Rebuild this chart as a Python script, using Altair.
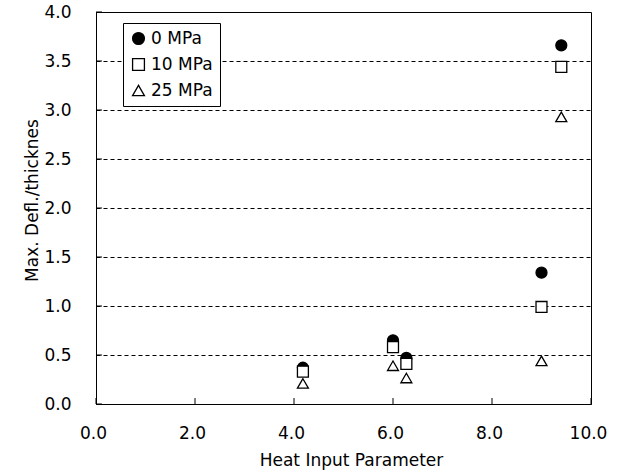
import altair as alt
import pandas as pd

series = ["0 MPa", "10 MPa", "25 MPa"]
heat = [4.18, 6.0, 6.27, 9.0, 9.4]
defl_0 = [0.37, 0.65, 0.47, 1.34, 3.66]
defl_10 = [0.33, 0.58, 0.41, 0.99, 3.44]
defl_25 = [0.21, 0.39, 0.265, 0.44, 2.93]
x_ticks = [0, 2, 4, 6, 8, 10]
y_ticks = [0, 0.5, 1, 1.5, 2, 2.5, 3, 3.5, 4]

rows = []
for name, vals in zip(series, [defl_0, defl_10, defl_25]):
    for x, y in zip(heat, vals):
        rows.append({"Pressure": name, "Heat": x, "Defl": y})
df = pd.DataFrame(rows)

FONT = "DejaVu Sans"
W, H = 495, 392

xscale = alt.Scale(domain=[0, 10], nice=False)
yscale = alt.Scale(domain=[0, 4], nice=False)

leg = dict(title=None, orient="none", legendX=27, legendY=11,
           fillColor="white", strokeColor="black", padding=7,
           labelFontSize=17, labelFont=FONT, labelColor="black", symbolSize=140,
           symbolStrokeWidth=1.3, rowPadding=7, labelOffset=4)

points = alt.Chart(df).mark_point(strokeWidth=1.3, opacity=1, size=120).encode(
    x=alt.X("Heat:Q", scale=xscale,
            axis=alt.Axis(title="Heat Input Parameter", values=x_ticks,
                          format=".1f", grid=False, ticks=False, labelFlush=False,
                          domainColor="black", labelPadding=21, labelOffset=-3,
                          titleX=255, titleY=61, titleBaseline="alphabetic")),
    y=alt.Y("Defl:Q", scale=yscale,
            axis=alt.Axis(title="Max. Defl./thicknes", values=y_ticks,
                          format=".1f", grid=True, gridColor="black", gridDash=[4, 3],
                          gridWidth=1, ticks=False, domainColor="black", labelFlush=False,
                          labelPadding=25, titleX=-59, titleY=188,
                          titleBaseline="alphabetic")),
    shape=alt.Shape("Pressure:N", scale=alt.Scale(domain=series, range=["circle", "square", "triangle-up"]),
                    legend=alt.Legend(**leg)),
    fill=alt.Fill("Pressure:N", scale=alt.Scale(domain=series, range=["black", "white", "white"]),
                  legend=alt.Legend(**leg)),
    stroke=alt.Stroke("Pressure:N", scale=alt.Scale(domain=series, range=["black", "black", "black"]),
                      legend=alt.Legend(**leg)),
)

xt = alt.Chart(pd.DataFrame({"t": x_ticks})).mark_rule(color="black", strokeWidth=1).encode(
    x=alt.X("t:Q", scale=xscale), y=alt.value(H), y2=alt.value(H - 6))
yt = alt.Chart(pd.DataFrame({"t": y_ticks})).mark_rule(color="black", strokeWidth=1).encode(
    y=alt.Y("t:Q", scale=yscale), x=alt.value(0), x2=alt.value(6))

chart = alt.layer(xt, yt, points).properties(
    width=W, height=H, background="white",
    autosize=alt.AutoSizeParams(type="none"),
    padding={"left": 96, "top": 12, "right": 26, "bottom": 68},
).configure_view(stroke="black", strokeWidth=1).configure_axis(
    labelFont=FONT, titleFont=FONT, labelFontSize=17, titleFontSize=17,
    titleFontWeight="normal", labelColor="black", titleColor="black",
)

chart.save("out.html", embed_options={"renderer": "svg", "actions": False})
